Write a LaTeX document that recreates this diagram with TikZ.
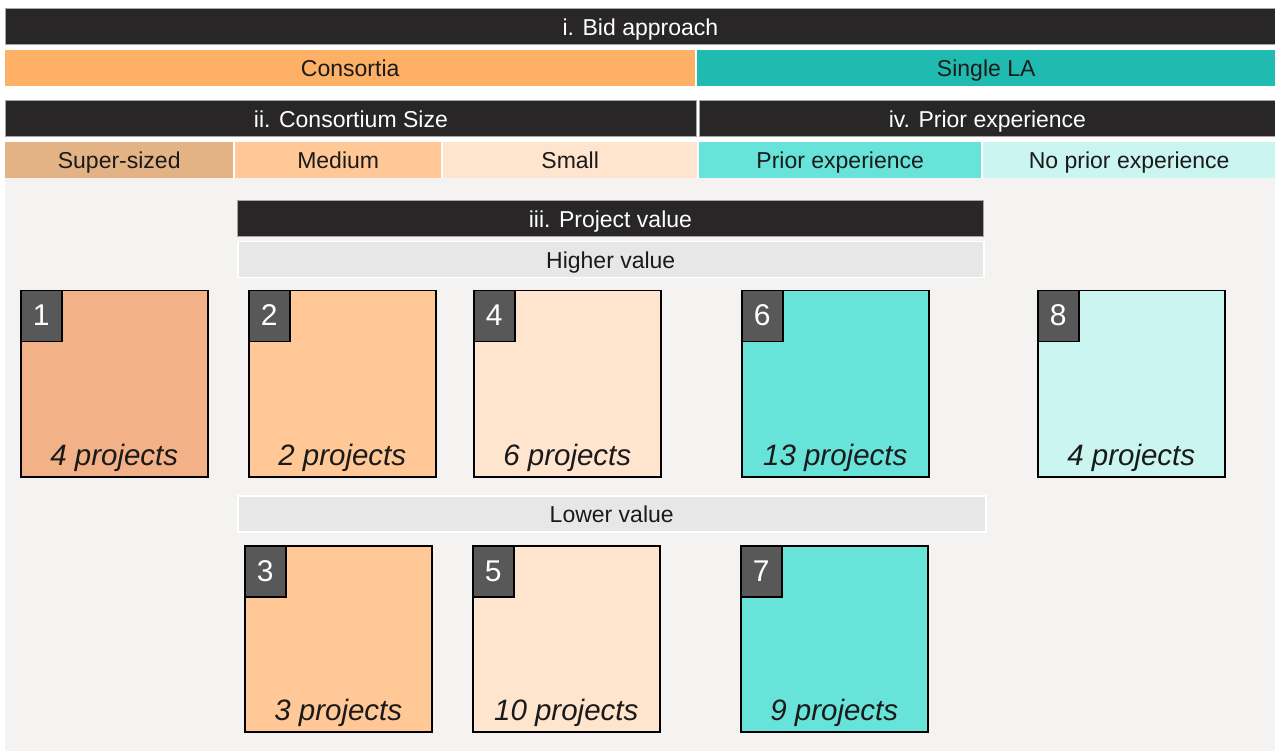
\documentclass[tikz,border=0pt]{standalone}
\usepackage{fontspec}
\setmainfont{Liberation Sans}
\definecolor{barblack}{RGB}{40,38,39}
\definecolor{consC}{RGB}{253,176,102}
\definecolor{singleC}{RGB}{32,187,176}
\definecolor{superC}{RGB}{227,178,133}
\definecolor{boxoneC}{RGB}{242,177,134}
\definecolor{medC}{RGB}{255,200,150}
\definecolor{smallC}{RGB}{255,228,206}
\definecolor{priorC}{RGB}{104,227,218}
\definecolor{noprC}{RGB}{203,245,240}
\definecolor{bandC}{RGB}{231,231,231}
\definecolor{backC}{RGB}{244,243,241}
\definecolor{tagC}{RGB}{88,88,88}
\definecolor{inkC}{RGB}{26,26,26}
\begin{document}
\begin{tikzpicture}[x=1pt,y=-1pt,
  bar/.style={anchor=north west,inner sep=0,minimum height=36,text height=17.5,text depth=0,text=inkC,font=\fontsize{23}{25}\selectfont},
  head/.style={bar,fill=barblack,draw=gray!70,line width=0.8,text=white},
  band/.style={bar,fill=bandC,draw=white,line width=1.5},
  box/.style={anchor=north west,inner sep=0,minimum width=187,minimum height=186,draw=black,line width=1.5},
  tag/.style={anchor=north west,inner sep=0,minimum width=41,minimum height=51,fill=tagC,draw=black,line width=1.5},
  num/.style={anchor=base,text=white,font=\fontsize{30}{32}\selectfont},
  cnt/.style={anchor=base,text=inkC,font=\itshape\fontsize{29.5}{31}\selectfont}]
\useasboundingbox[fill=white](0,0)rectangle(1275,751);
\fill[backC](5,178)rectangle(1275,751);
% header rows
\node[head,minimum width=1270](bid)at(5,8){i. Bid approach};
\node[bar,fill=consC,minimum width=690](cons)at(5,50){Consortia};
\node[bar,fill=singleC,minimum width=578](single)at(697,50){Single LA};
\node[head,minimum width=691](size)at(5,100){ii. Consortium Size};
\node[head,minimum width=576](exp)at(699,100){iv. Prior experience};
\node[bar,fill=superC,minimum width=228](super)at(5,142){Super-sized};
\node[bar,fill=medC,minimum width=206](medium)at(235,142){Medium};
\node[bar,fill=smallC,minimum width=254](small)at(443,142){Small};
\node[bar,fill=priorC,minimum width=282](prior)at(699,142){Prior experience};
\node[bar,fill=noprC,minimum width=292](noprior)at(983,142){No prior experience};
\node[head,minimum width=746](value)at(237,200){iii. Project value};
\node[band,minimum width=746](high)at(237,241){Higher value};
\node[band,minimum width=748](low)at(237,495){Lower value};
% project groups
\foreach \n/\x/\y/\c/\p in {1/20/290/boxoneC/4,2/248/290/medC/2,4/473/290/smallC/6,6/741/290/priorC/13,8/1037/290/noprC/4,3/244/545/medC/3,5/472/545/smallC/10,7/740/545/priorC/9}{
  \node[box,fill=\c](box\n)at(\x,\y){};
  \node[tag](tag\n)at(box\n.north west){};
  \node[num](num\n)at([yshift=-36pt]tag\n.north){\n};
  \node[cnt](cnt\n)at([yshift=12pt]box\n.south){\p\ projects};
}
\end{tikzpicture}
\end{document}
